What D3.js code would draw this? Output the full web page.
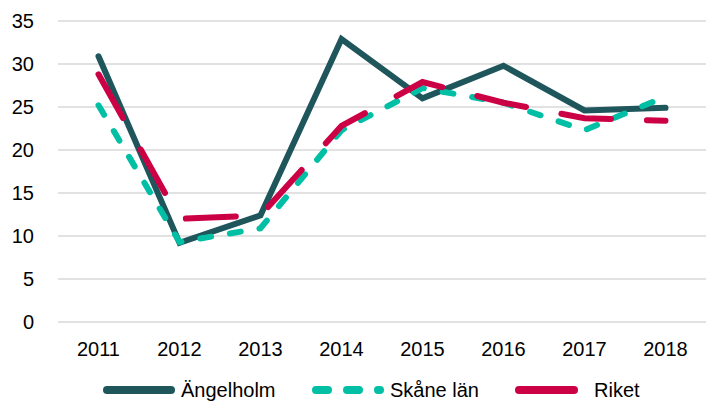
<!DOCTYPE html>
<html>
<head>
<meta charset="utf-8">
<script src="https://cdn.jsdelivr.net/npm/d3@7"></script>
<style>
body { margin: 0; background: #fff; }
text { font-family: "Liberation Sans", Arial, sans-serif; fill: #000; }
</style>
</head>
<body>
<div id="viz"></div>
<script>
var years = ["2011", "2012", "2013", "2014", "2015", "2016", "2017", "2018"];
var angelholm = [30.9, 9.2, 12.4, 32.9, 26.0, 29.8, 24.6, 24.9];
var skane = [25.2, 9.3, 10.9, 22.3, 27.2, 25.5, 22.3, 26.2];
var riket = [28.8, 12.0, 12.4, 22.8, 27.9, 25.5, 23.7, 23.4];
var yTicks = [0, 5, 10, 15, 20, 25, 30, 35];

var series = [
    {name: "Ängelholm", values: angelholm, color: "#1f565c", dash: null, cap: "round"},
    {name: "Skåne län", values: skane, color: "#00bfa5", dash: "11,19", cap: "round"},
    {name: "Riket", values: riket, color: "#cc0044", dash: "50,36", cap: "round"}
];

var width = 708, height = 401;
var svg = d3.select("#viz")
        .append("svg")
        .attr("width", width)
        .attr("height", height);

var x = d3.scaleBand().domain(years).range([58, 706]);
var y = d3.scaleLinear().domain([0, 35]).range([322, 21]);

// gridlines
svg.selectAll("line.grid")
    .data(yTicks)
    .enter()
    .append("line")
    .attr("class", "grid")
    .attr("x1", 58)
    .attr("x2", 706)
    .attr("y1", function(d) { return y(d); })
    .attr("y2", function(d) { return y(d); })
    .style("stroke", "#d9d9d9")
    .style("stroke-width", 1.5);

svg.selectAll("text.ytick")
    .data(yTicks)
    .enter()
    .append("text")
    .attr("class", "ytick")
    .attr("x", 34)
    .attr("y", function(d) { return y(d) + 7; })
    .attr("text-anchor", "end")
    .style("font-size", "20px")
    .text(function(d) { return d; });

svg.selectAll("text.xtick")
    .data(years)
    .enter()
    .append("text")
    .attr("class", "xtick")
    .attr("x", function(d) { return x(d) + x.bandwidth() / 2; })
    .attr("y", 356)
    .attr("text-anchor", "middle")
    .style("font-size", "20px")
    .text(function(d) { return d; });

var line = d3.line()
    .x(function(d, i) { return x(years[i]) + x.bandwidth() / 2; })
    .y(function(d) { return y(d); });

series.forEach(function(s) {
    svg.append("path")
        .attr("d", line(s.values))
        .style("fill", "none")
        .style("stroke", s.color)
        .style("stroke-width", 6)
        .style("stroke-linecap", s.cap)
        .style("stroke-linejoin", "miter")
        .style("stroke-dasharray", s.dash);
});

// legend
var legend = [
    {s: series[0], x1: 107, x2: 171, dash: null, tx: 181},
    {s: series[1], x1: 316, x2: 380, dash: "12,19", tx: 390},
    {s: series[2], x1: 519, x2: 574, dash: null, tx: 594}
];
legend.forEach(function(l) {
    svg.append("line")
        .attr("x1", l.x1)
        .attr("x2", l.x2)
        .attr("y1", 390)
        .attr("y2", 390)
        .style("stroke", l.s.color)
        .style("stroke-width", 8)
        .style("stroke-linecap", "round")
        .style("stroke-dasharray", l.dash);
    svg.append("text")
        .attr("x", l.tx)
        .attr("y", 397)
        .style("font-size", "20px")
        .text(l.s.name);
});
</script>
</body>
</html>
